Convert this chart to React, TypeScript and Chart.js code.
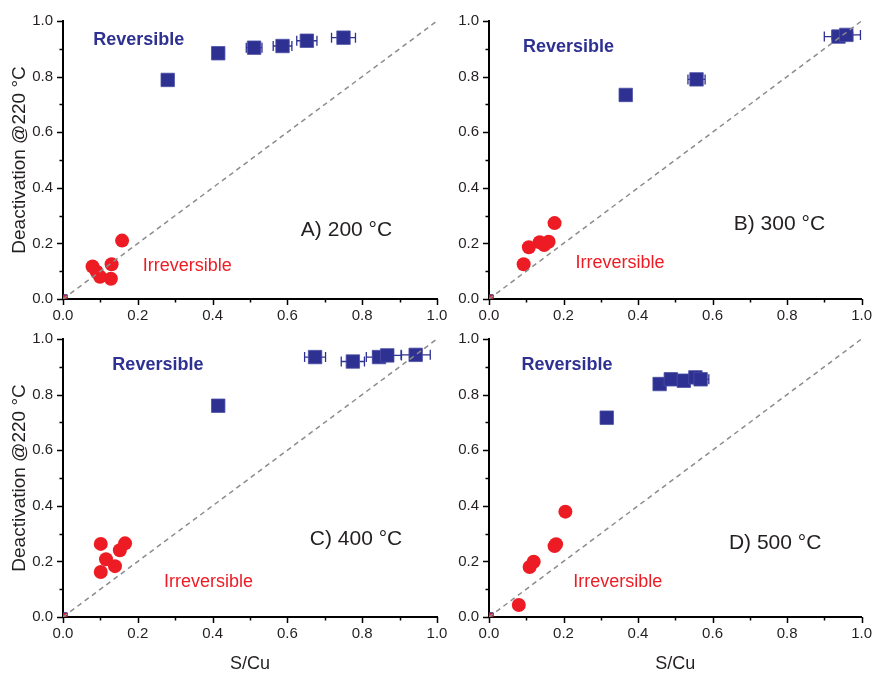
import React, { useEffect, useRef } from "react";
import { Chart, registerables } from "chart.js";

Chart.register(...registerables);

// ---------- data ----------
const majorTicks = [0, 0.2, 0.4, 0.6, 0.8, 1.0];
const diagX = [0, 1];
const diagY = [0, 1];
const originX = [0];
const originY = [0];

const yAxisTitle = "Deactivation @220 °C";
const xAxisTitle = "S/Cu";
const reversibleLabel = "Reversible";
const irreversibleLabel = "Irreversible";
const panelTitles = ["A) 200 °C", "B) 300 °C", "C) 400 °C", "D) 500 °C"];

// Panel A (200 °C)
const revAx = [0.28, 0.415, 0.511, 0.587, 0.652, 0.75];
const revAy = [0.788, 0.884, 0.904, 0.91, 0.929, 0.94];
const revAerr = [0, 0, 0.021, 0.025, 0.027, 0.032];
const irrAx = [0.079, 0.09, 0.099, 0.128, 0.13, 0.158];
const irrAy = [0.117, 0.098, 0.08, 0.073, 0.125, 0.21];

// Panel B (300 °C)
const revBx = [0.367, 0.557, 0.938, 0.959];
const revBy = [0.734, 0.79, 0.944, 0.95];
const revBerr = [0, 0.023, 0.038, 0.038];
const irrBx = [0.093, 0.107, 0.136, 0.148, 0.16, 0.176];
const irrBy = [0.125, 0.186, 0.204, 0.194, 0.206, 0.273];

// Panel C (400 °C)
const revCx = [0.415, 0.674, 0.775, 0.845, 0.867, 0.943];
const revCy = [0.76, 0.935, 0.919, 0.935, 0.941, 0.943];
const revCerr = [0, 0.028, 0.031, 0.034, 0.038, 0.039];
const irrCx = [0.101, 0.166, 0.152, 0.115, 0.139, 0.101];
const irrCy = [0.263, 0.265, 0.24, 0.208, 0.183, 0.162];

// Panel D (500 °C)
const revDx = [0.316, 0.458, 0.488, 0.523, 0.554, 0.568];
const revDy = [0.717, 0.838, 0.855, 0.85, 0.862, 0.855];
const revDerr = [0, 0, 0, 0, 0, 0.022];
const irrDx = [0.08, 0.109, 0.12, 0.176, 0.18, 0.205];
const irrDy = [0.043, 0.18, 0.199, 0.255, 0.262, 0.379];

// ---------- styles / layout ----------
const FONT = "'Liberation Sans', Arial, Helvetica, sans-serif";
const BLUE = "#2e3192";
const RED = "#ed1c24";
const INK = "#231f20";

type Panel = {
  left: number; top: number; width: number; height: number;
  yWidth: number; xHeight: number; padTop: number; padRight: number;
  yTitle: boolean; xTitle: boolean;
  revX: number[]; revY: number[]; revErr: number[];
  irrX: number[]; irrY: number[];
  title: string;
  titleAt: [number, number]; revAt: [number, number]; irrAt: [number, number];
};

const panels: Panel[] = [
  { left: 0, top: 0, width: 452, height: 336, yWidth: 63, xHeight: 37, padTop: 21, padRight: 15,
    yTitle: true, xTitle: false, revX: revAx, revY: revAy, revErr: revAerr, irrX: irrAx, irrY: irrAy,
    title: panelTitles[0], titleAt: [0.636, 0.248], revAt: [0.081, 0.932], irrAt: [0.213, 0.12] },
  { left: 436, top: 0, width: 438, height: 336, yWidth: 53, xHeight: 37, padTop: 21, padRight: 11,
    yTitle: false, xTitle: false, revX: revBx, revY: revBy, revErr: revBerr, irrX: irrBx, irrY: irrBy,
    title: panelTitles[1], titleAt: [0.657, 0.27], revAt: [0.091, 0.908], irrAt: [0.232, 0.128] },
  { left: 0, top: 316, width: 452, height: 357, yWidth: 63, xHeight: 56, padTop: 23, padRight: 15,
    yTitle: true, xTitle: true, revX: revCx, revY: revCy, revErr: revCerr, irrX: irrCx, irrY: irrCy,
    title: panelTitles[2], titleAt: [0.66, 0.28], revAt: [0.132, 0.907], irrAt: [0.27, 0.127] },
  { left: 436, top: 316, width: 438, height: 357, yWidth: 53, xHeight: 56, padTop: 23, padRight: 11,
    yTitle: false, xTitle: true, revX: revDx, revY: revDy, revErr: revDerr, irrX: irrDx, irrY: irrDy,
    title: panelTitles[3], titleAt: [0.644, 0.264], revAt: [0.087, 0.906], irrAt: [0.226, 0.126] },
];

const toPts = (xs: number[], ys: number[]) => xs.map((x, i) => ({ x, y: ys[i] }));

// ---------- plugins ----------
const errorBarPlugin = {
  id: "errorBars",
  beforeDatasetsDraw(chart: any) {
    const { ctx } = chart;
    const xs = chart.scales.x;
    const ys = chart.scales.y;
    chart.data.datasets.forEach((ds: any) => {
      if (!ds.xErr) return;
      ctx.save();
      ctx.strokeStyle = BLUE;
      ctx.lineWidth = 1.3;
      ds.data.forEach((p: any, i: number) => {
        const e = ds.xErr[i];
        if (!e) return;
        const py = ys.getPixelForValue(p.y);
        const l = xs.getPixelForValue(p.x - e);
        const r = xs.getPixelForValue(p.x + e);
        ctx.beginPath();
        ctx.moveTo(l, py); ctx.lineTo(r, py);
        ctx.moveTo(l, py - 5); ctx.lineTo(l, py + 5);
        ctx.moveTo(r, py - 5); ctx.lineTo(r, py + 5);
        ctx.stroke();
      });
      ctx.restore();
    });
  },
};

const tickMarksPlugin = {
  id: "tickMarks",
  afterDraw(chart: any) {
    const { ctx, chartArea } = chart;
    const xs = chart.scales.x;
    const ys = chart.scales.y;
    ctx.save();
    ctx.strokeStyle = "#000";
    ctx.lineWidth = 1.5;
    ctx.beginPath();
    majorTicks.forEach((v, i) => {
      const vals = [v];
      if (i < majorTicks.length - 1) vals.push((v + majorTicks[i + 1]) / 2);
      vals.forEach((t, k) => {
        const len = k === 0 ? 6 : 3.5;
        const px = Math.round(xs.getPixelForValue(t)) + 0.5;
        ctx.moveTo(px, chartArea.bottom);
        ctx.lineTo(px, chartArea.bottom + len);
        const py = Math.round(ys.getPixelForValue(t)) + 0.5;
        ctx.moveTo(chartArea.left, py);
        ctx.lineTo(chartArea.left - len, py);
      });
    });
    ctx.stroke();
    ctx.restore();
  },
};

const labelsPlugin = {
  id: "panelLabels",
  afterDatasetsDraw(chart: any, _args: any, opts: any) {
    const { ctx } = chart;
    const xs = chart.scales.x;
    const ys = chart.scales.y;
    const put = (text: string, at: [number, number], font: string, color: string) => {
      ctx.save();
      ctx.font = font;
      ctx.fillStyle = color;
      ctx.textAlign = "left";
      ctx.textBaseline = "middle";
      ctx.fillText(text, xs.getPixelForValue(at[0]), ys.getPixelForValue(at[1]));
      ctx.restore();
    };
    put(opts.title, opts.titleAt, `21px ${FONT}`, INK);
    put(reversibleLabel, opts.revAt, `bold 18px ${FONT}`, BLUE);
    put(irreversibleLabel, opts.irrAt, `18px ${FONT}`, RED);
  },
};

function PanelChart({ p }: { p: Panel }) {
  const ref = useRef<HTMLCanvasElement | null>(null);
  useEffect(() => {
    if (!ref.current) return;
    const chart = new Chart(ref.current, {
      type: "scatter",
      data: {
        datasets: [
          {
            data: toPts(diagX, diagY),
            showLine: true,
            borderColor: "#8c8c8c",
            borderWidth: 1.5,
            borderDash: [5, 4],
            pointRadius: 0,
            fill: false,
          } as any,
          {
            data: toPts(p.revX, p.revY),
            xErr: p.revErr,
            pointStyle: "rect",
            pointRadius: 9.5,
            backgroundColor: BLUE,
            borderColor: "#4a4ea3",
            borderWidth: 0.8,
          } as any,
          {
            data: toPts(p.irrX, p.irrY),
            pointStyle: "circle",
            pointRadius: 7,
            backgroundColor: RED,
            borderColor: RED,
            borderWidth: 0,
          } as any,
          {
            data: toPts(originX, originY),
            pointStyle: "rect",
            pointRadius: 6,
            backgroundColor: RED,
            borderColor: BLUE,
            borderWidth: 1,
          } as any,
        ],
      },
      options: {
        responsive: false,
        animation: false,
        events: [],
        layout: { padding: { left: 0, top: p.padTop, right: p.padRight, bottom: 0 } },
        plugins: {
          legend: { display: false },
          tooltip: { enabled: false },
          panelLabels: { title: p.title, titleAt: p.titleAt, revAt: p.revAt, irrAt: p.irrAt },
        } as any,
        scales: {
          x: {
            type: "linear",
            min: 0,
            max: 1,
            grid: { display: false, drawTicks: true, tickLength: 6 },
            border: { display: true, color: "#000", width: 2 },
            ticks: {
              stepSize: 0.2,
              padding: 2,
              color: INK,
              font: { family: FONT, size: 15 },
              maxRotation: 0,
              autoSkip: false,
              callback: (v: any) => Number(v).toFixed(1),
            },
            title: {
              display: p.xTitle,
              text: xAxisTitle,
              color: INK,
              font: { family: FONT, size: 18, lineHeight: 1 },
              padding: { top: 0, bottom: 0 },
            },
            afterFit: (s: any) => { s.height = p.xHeight; },
          },
          y: {
            type: "linear",
            min: 0,
            max: 1,
            grid: { display: false, drawTicks: true, tickLength: 6 },
            border: { display: true, color: "#000", width: 2 },
            ticks: {
              stepSize: 0.2,
              padding: 4,
              color: INK,
              font: { family: FONT, size: 15 },
              autoSkip: false,
              callback: (v: any) => Number(v).toFixed(1),
            },
            title: {
              display: p.yTitle,
              text: yAxisTitle,
              color: INK,
              font: { family: FONT, size: 19 },
              padding: { top: 8, bottom: 0 },
            },
            afterFit: (s: any) => { s.width = p.yWidth; },
          },
        },
      } as any,
      plugins: [errorBarPlugin, tickMarksPlugin, labelsPlugin],
    });
    return () => chart.destroy();
  }, [p]);
  return (
    <canvas
      ref={ref}
      width={p.width}
      height={p.height}
      style={{ position: "absolute", left: p.left, top: p.top, width: p.width, height: p.height }}
    />
  );
}

export default function App() {
  return (
    <div
      style={{
        position: "absolute",
        left: 0,
        top: 0,
        width: 874,
        height: 673,
        background: "#fff",
        overflow: "hidden",
      }}
    >
      {panels.map((p, i) => (
        <PanelChart key={i} p={p} />
      ))}
    </div>
  );
}
